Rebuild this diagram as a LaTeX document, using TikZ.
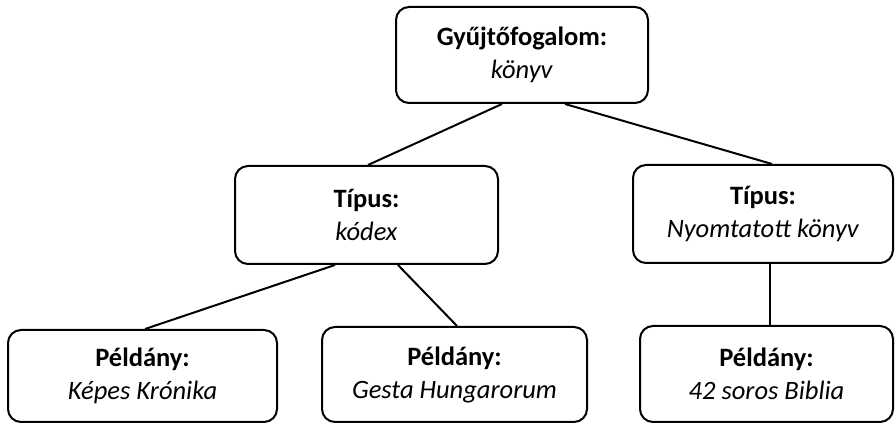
\documentclass[tikz,border=0pt]{standalone}
\usepackage{fontspec}
\setmainfont{Carlito}
\begin{document}
\begin{tikzpicture}[x=1pt,y=1pt,
  box/.style={draw, line width=2pt, rounded corners=13pt, align=center, inner sep=0pt,
    font=\fontsize{26.5}{33}\selectfont},
  conn/.style={line width=2pt}]
\useasboundingbox (0,0) rectangle (896,425);
\node[box, minimum width=252pt, minimum height=96pt] (top) at (522,370) {\textbf{Gyűjtőfogalom:}\\\textit{könyv}};
\node[box, minimum width=263pt, minimum height=98pt] (kodex) at (366.5,210) {\textbf{Típus:}\\\textit{kódex}};
\node[box, minimum width=260pt, minimum height=98pt] (nyomt) at (763,211) {\textbf{Típus:}\\\textit{Nyomtatott könyv}};
\node[box, minimum width=269pt, minimum height=92pt] (kepes) at (142.5,49) {\textbf{Példány:}\\\textit{Képes Krónika}};
\node[box, minimum width=265pt, minimum height=95pt] (gesta) at (454.5,50.5) {\textbf{Példány:}\\\textit{Gesta Hungarorum}};
\node[box, minimum width=253pt, minimum height=96pt] (biblia) at (766.5,51) {\textbf{Példány:}\\\textit{42 soros Biblia}};
\draw[conn] ([xshift=-20pt]top.south) -- ([xshift=1.5pt]kodex.north);
\draw[conn] ([xshift=43pt]top.south) -- ([xshift=9pt]nyomt.north);
\draw[conn] ([xshift=-31.5pt]kodex.south) -- ([xshift=2.5pt]kepes.north);
\draw[conn] ([xshift=31.5pt]kodex.south) -- ([xshift=2.5pt]gesta.north);
\draw[conn] ([xshift=7pt]nyomt.south) -- ([xshift=7pt]nyomt.south |- biblia.north);
\end{tikzpicture}
\end{document}
